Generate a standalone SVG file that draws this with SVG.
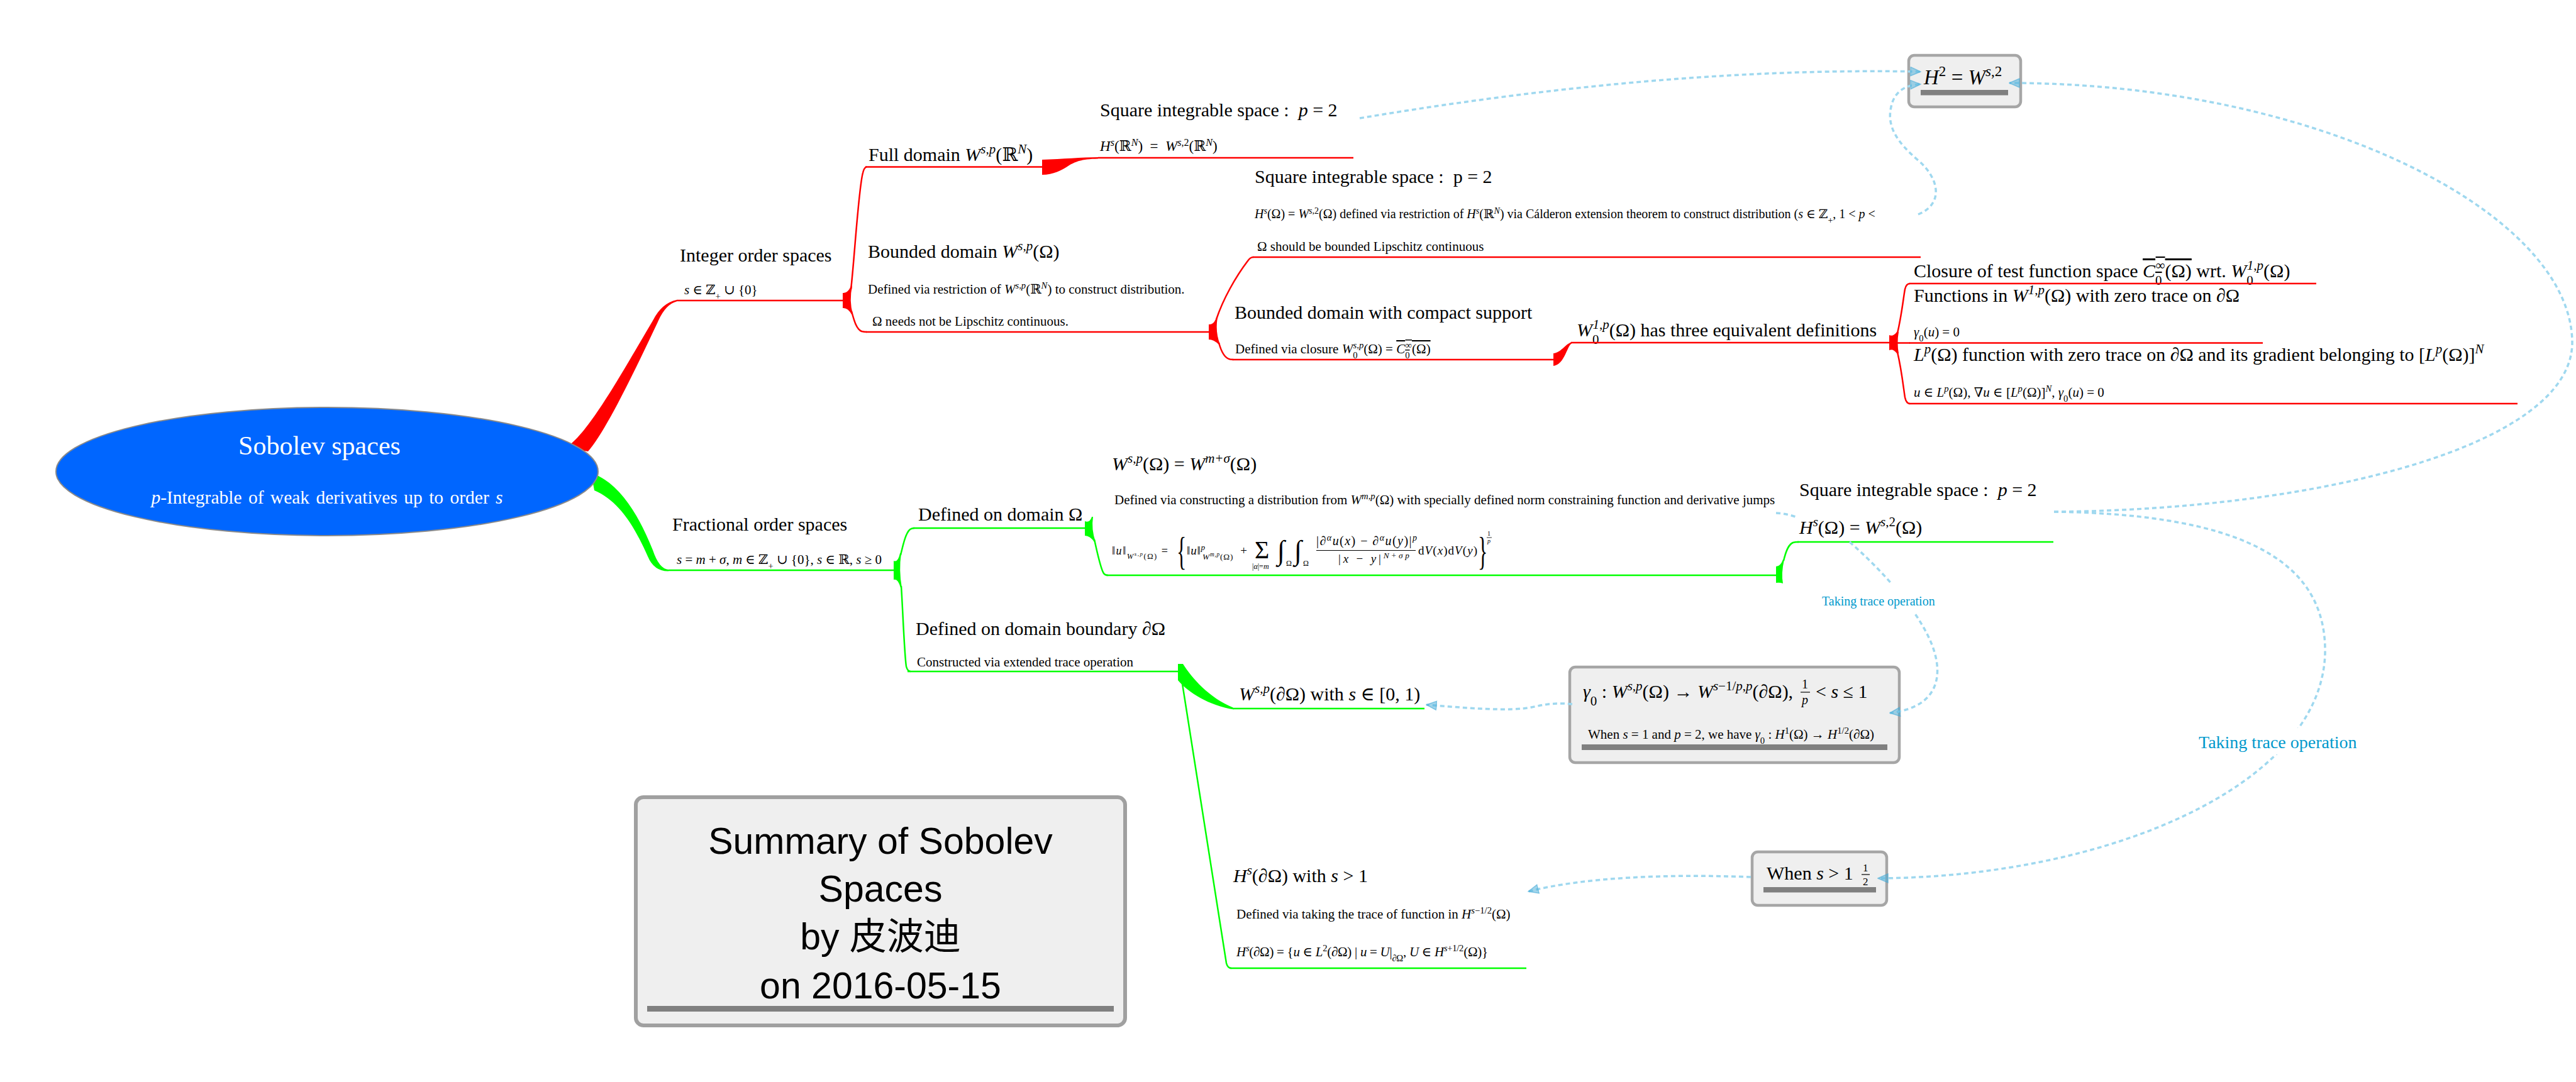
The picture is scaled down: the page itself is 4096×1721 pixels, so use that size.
<svg xmlns="http://www.w3.org/2000/svg" width="4096" height="1721" viewBox="0 0 4096 1721">
<defs>
<style>
.t{font-family:"Liberation Serif","DejaVu Serif",serif;fill:#000}
.ti{font-size:30px}
.nt{font-size:21px}
.i{font-style:italic}
.sup{font-size:70%;baseline-shift:super}
.sb{font-size:70%;baseline-shift:sub}
.rl{fill:none;stroke:#ff0000;stroke-width:2.5}
.gl{fill:none;stroke:#00ff00;stroke-width:2.5}
.rf{fill:#ff0000}
.gf{fill:#00ff00}
.rel{fill:none;stroke:#9fd8ef;stroke-width:3.5;stroke-dasharray:7 5}
.box{fill:#efefef;stroke:#a6a6a6;stroke-width:4.5}
.bar{fill:#808080}
.lbl{font-family:"Liberation Serif","DejaVu Serif",serif;fill:#0099cc}
.sum{font-family:"Liberation Sans","Noto Sans CJK SC",sans-serif;font-size:59px;fill:#000;text-anchor:middle}
.wt{fill:#fff}
.fb{stroke:#000;stroke-width:1.2}
</style>
<marker id="ah" viewBox="0 0 18 16" refX="17" refY="8" markerWidth="18" markerHeight="16" markerUnits="userSpaceOnUse" orient="auto">
<path d="M1 1 L17 8 L1 15 Z" fill="#46acd8" fill-opacity="0.5" stroke="#46acd8" stroke-opacity="0.6" stroke-width="1.5"/>
</marker>
<clipPath id="cpj"><rect x="1700" y="770" width="1126" height="50"/></clipPath>
</defs>

<g id="branches">
<path class="rf" d="M900 712 C935 690 985 600 1038 510 Q1052 482 1076 477 L1076 479.5 Q1058 484 1046 512 C1000 610 960 690 935 718 Z"/>
<path class="gf" d="M940 752 C985 768 1015 818 1038 875 Q1048 905 1063 906 L1063 908.5 Q1040 909 1030 885 C1005 828 980 795 945 780 Z"/>
<path class="rf" d="M1340 466 Q1348 467 1353 455 L1355 455 Q1350 478 1356 500 L1354 500 Q1348 489 1340 490 Z"/>
<path class="rl" d="M1353 460 C1358 420 1365 300 1372 275 Q1374 266 1378 265.5"/>
<path class="rl" d="M1354 495 C1358 510 1362 524 1370 527 Q1374 528 1378 528"/>
<path class="rf" d="M1657 254 C1690 253 1720 250 1746 250 L1746 252.5 C1722 253 1712 256 1700 263 C1688 271 1675 278 1657 278 Z"/>
<path class="rf" d="M1922 516 Q1930 517 1934 505 L1936 505 Q1932 528 1940 548 L1938 548 Q1930 540 1922 540 Z"/>
<path class="rl" d="M1934 508 C1945 475 1965 440 1984 415 Q1988 409 1993 409"/>
<path class="rl" d="M1938 545 C1942 560 1948 570 1956 571.5 L1961 572"/>
<path class="rf" d="M2470 562 C2482 561 2488 548 2499 544 L2499 546.5 C2492 549 2488 580 2470 582 Z"/>
<path class="rf" d="M3004 533 Q3010 536 3016 528 L3019 528 Q3016 545 3019 562 L3016 562 Q3010 554 3004 557 Z"/>
<path class="rl" d="M3017 530 C3024 500 3027 470 3029 460 Q3031 451 3037 451"/>
<path class="rl" d="M3017 560 C3024 590 3027 620 3029 632 Q3031 642 3037 642"/>
<path class="rl" d="M3004 545.5 H3037"/>
<path class="gf" d="M1421 892 Q1428 895 1431 880 L1433 880 Q1429 907 1434 935 L1432 935 Q1428 920 1421 922 Z"/>
<path class="gl" d="M1432 883 C1436 866 1440 848 1447 842 Q1450 840 1454 840"/>
<path class="gl" d="M1433 932 C1436 980 1438 1040 1441 1060 Q1443 1068 1448 1068"/>
<path class="gf" d="M1725 829 Q1733 832 1736 822 L1738 822 Q1735 842 1742 862 L1740 862 Q1733 852 1725 852 Z"/>
<path class="gl" d="M1740 858 C1745 880 1750 905 1755 912 Q1757 915 1762 915"/>
<path class="gf" d="M2824 901 Q2831 901 2835 890 L2837 890 Q2832 912 2835 928 Q2830 926 2824 927 Z"/>
<path class="gl" d="M2836 892 C2840 875 2844 866 2851 863 Q2854 862 2860 862"/>
<path class="gf" d="M1873 1056 L1881 1056 C1895 1078 1922 1110 1962 1126 L1962 1128.5 C1922 1122 1890 1102 1873 1082 Z"/>
<path class="gl" d="M1878 1075 L1950 1532 Q1952 1540 1958 1540"/>
</g>

<g id="n-root">
<ellipse cx="520" cy="750" rx="431" ry="102" fill="#0066ff" stroke="#8a8a8a" stroke-width="2"/>
<text class="t wt" x="508" y="723" font-size="42" text-anchor="middle">Sobolev spaces</text>
<text class="t wt" x="520" y="801" font-size="29.5" word-spacing="3" text-anchor="middle"><tspan class="i">p</tspan>-Integrable of weak derivatives up to order <tspan class="i">s</tspan></text>
</g>

<g id="n-integer">
<text class="t ti" x="1081" y="416">Integer order spaces</text>
<text class="t nt" x="1088" y="468"><tspan class="i">s</tspan> ∈ ℤ<tspan class="sb">+</tspan> ∪ {0}</text>
<path class="rl" d="M1076 478H1342"/>
</g>

<g id="n-full">
<text class="t ti" x="1381" y="256">Full domain <tspan class="i">W</tspan><tspan class="sup i">s,p</tspan>(ℝ<tspan class="sup i">N</tspan>)</text>
<path class="rl" d="M1376 265.5H1657"/>
</g>

<g id="n-square1">
<text class="t ti" x="1749" y="185">Square integrable space : &#160;<tspan class="i">p</tspan> = 2</text>
<text class="t" font-size="23" x="1749" y="240"><tspan class="i">H</tspan><tspan class="sup i">s</tspan>(ℝ<tspan class="sup i">N</tspan>) &#160;= &#160;<tspan class="i">W</tspan><tspan class="sup"><tspan class="i">s</tspan>,2</tspan>(ℝ<tspan class="sup i">N</tspan>)</text>
<path class="rl" d="M1746 251H2152"/>
</g>

<g id="n-bounded">
<text class="t ti" x="1380" y="410">Bounded domain <tspan class="i">W</tspan><tspan class="sup i">s,p</tspan>(Ω)</text>
<text class="t nt" x="1380" y="467">Defined via restriction of <tspan class="i">W</tspan><tspan class="sup i">s,p</tspan>(ℝ<tspan class="sup i">N</tspan>) to construct distribution.</text>
<text class="t nt" x="1387" y="518">Ω needs not be Lipschitz continuous.</text>
<path class="rl" d="M1377 528H1925"/>
</g>

<g id="n-square2">
<text class="t ti" x="1995" y="291">Square integrable space : &#160;p = 2</text>
<text class="t" font-size="20" x="1995" y="347"><tspan class="i">H</tspan><tspan class="sup i">s</tspan>(Ω) = <tspan class="i">W</tspan><tspan class="sup"><tspan class="i">s</tspan>,2</tspan>(Ω) defined via restriction of <tspan class="i">H</tspan><tspan class="sup i">s</tspan>(ℝ<tspan class="sup i">N</tspan>) via Cálderon extension theorem to construct distribution (<tspan class="i">s</tspan> ∈ ℤ<tspan class="sb">+</tspan>, 1 &lt; <tspan class="i">p</tspan> &lt;</text>
<text class="t nt" x="1999" y="399">Ω should be bounded Lipschitz continuous</text>
<path class="rl" d="M1992 409H3054"/>
</g>

<g id="n-compact">
<text class="t ti" x="1963" y="507">Bounded domain with compact support</text>
<text class="t nt" x="1964" y="562">Defined via closure <tspan class="i">W</tspan><tspan class="sb">0</tspan><tspan class="sup i" dx="-7">s,p</tspan>(Ω) = <tspan text-decoration="overline"><tspan class="i">C</tspan><tspan class="sb">0</tspan><tspan class="sup" dx="-7">∞</tspan>(Ω)</tspan></text>
<path class="rl" d="M1960 572H2474"/>
</g>

<g id="n-w0">
<text class="t ti" x="2507" y="535"><tspan class="i">W</tspan><tspan class="sb">0</tspan><tspan class="sup i" dx="-10">1,p</tspan>(Ω) has three equivalent definitions</text>
<path class="rl" d="M2498 545H3004"/>
</g>

<g id="n-closure">
<text class="t ti" x="3043" y="441">Closure of test function space <tspan text-decoration="overline"><tspan class="i">C</tspan><tspan class="sb">0</tspan><tspan class="sup" dx="-10">∞</tspan>(Ω)</tspan> wrt. <tspan class="i">W</tspan><tspan class="sb">0</tspan><tspan class="sup i" dx="-10">1,p</tspan>(Ω)</text>
<path class="rl" d="M3036 451H3683"/>
</g>

<g id="n-functions">
<text class="t ti" x="3043" y="480">Functions in <tspan class="i">W</tspan><tspan class="sup i">1,p</tspan>(Ω) with zero trace on ∂Ω</text>
<text class="t nt" x="3043" y="535"><tspan class="i">γ</tspan><tspan class="sb">0</tspan>(<tspan class="i">u</tspan>) = 0</text>
<path class="rl" d="M3036 545.5H3598"/>
</g>

<g id="n-lp">
<text class="t ti" x="3043" y="574"><tspan class="i">L</tspan><tspan class="sup i">p</tspan>(Ω) function with zero trace on ∂Ω and its gradient belonging to [<tspan class="i">L</tspan><tspan class="sup i">p</tspan>(Ω)]<tspan class="sup i">N</tspan></text>
<text class="t nt" x="3043" y="631"><tspan class="i">u</tspan> ∈ <tspan class="i">L</tspan><tspan class="sup i">p</tspan>(Ω), ∇<tspan class="i">u</tspan> ∈ [<tspan class="i">L</tspan><tspan class="sup i">p</tspan>(Ω)]<tspan class="sup i">N</tspan>, <tspan class="i">γ</tspan><tspan class="sb">0</tspan>(<tspan class="i">u</tspan>) = 0</text>
<path class="rl" d="M3036 642H4003"/>
</g>

<g id="n-fractional">
<text class="t ti" x="1069" y="844">Fractional order spaces</text>
<text class="t nt" x="1076" y="897"><tspan class="i">s</tspan> = <tspan class="i">m</tspan> + <tspan class="i">σ</tspan>, <tspan class="i">m</tspan> ∈ ℤ<tspan class="sb">+</tspan> ∪ {0}, <tspan class="i">s</tspan> ∈ ℝ, <tspan class="i">s</tspan> ≥ 0</text>
<path class="gl" d="M1063 907H1425"/>
</g>

<g id="n-domain">
<text class="t ti" x="1460" y="828">Defined on domain Ω</text>
<path class="gl" d="M1452 840H1729"/>
</g>

<g id="n-wmsigma">
<text class="t ti" x="1768" y="748"><tspan class="i">W</tspan><tspan class="sup i">s,p</tspan>(Ω) = <tspan class="i">W</tspan><tspan class="sup i">m+σ</tspan>(Ω)</text>
<text class="t nt" x="1772" y="802" clip-path="url(#cpj)">Defined via constructing a distribution from <tspan class="i">W</tspan><tspan class="sup i">m,p</tspan>(Ω) with specially defined norm constraining function and derivative jumps</text>
<g class="t">
<text font-size="18" x="1768" y="882" textLength="89" lengthAdjust="spacing">‖<tspan class="i">u</tspan>‖<tspan class="sb"><tspan class="i">W</tspan><tspan class="sup i">s,p</tspan>(Ω)</tspan> =</text>
<text font-size="64" transform="translate(1871 898) scale(0.5 1)">{</text>
<text font-size="19" x="1887" y="882" textLength="96" lengthAdjust="spacing">‖<tspan class="i">u</tspan>‖<tspan class="sup i">p</tspan><tspan class="sb" dx="-5"><tspan class="i">W</tspan><tspan class="sup i">m,p</tspan>(Ω)</tspan> &#160;+</text>
<text font-size="40" x="1995" y="888">Σ</text>
<text font-size="12" x="1991" y="905">|<tspan class="i">α</tspan>|=<tspan class="i">m</tspan></text>
<text font-size="44" x="2031" y="890">∫</text>
<text font-size="12" x="2045" y="900">Ω</text>
<text font-size="44" x="2058" y="890">∫</text>
<text font-size="12" x="2072" y="900">Ω</text>
<text font-size="20" x="2093" y="867" textLength="160" lengthAdjust="spacing">|∂<tspan class="sup i">α</tspan><tspan class="i">u</tspan>(<tspan class="i">x</tspan>) − ∂<tspan class="sup i">α</tspan><tspan class="i">u</tspan>(<tspan class="i">y</tspan>)|<tspan class="sup i">p</tspan></text>
<line class="fb" x1="2093" y1="875.5" x2="2251" y2="875.5"/>
<text font-size="19" x="2128" y="895" textLength="113" lengthAdjust="spacing">|<tspan class="i">x</tspan> − <tspan class="i">y</tspan>|<tspan class="sup"><tspan class="i">N</tspan>+<tspan class="i">σp</tspan></tspan></text>
<text font-size="19" x="2255" y="882" textLength="94" lengthAdjust="spacing">d<tspan class="i">V</tspan>(<tspan class="i">x</tspan>)d<tspan class="i">V</tspan>(<tspan class="i">y</tspan>)</text>
<text font-size="64" transform="translate(2350 898) scale(0.5 1)">}</text>
<text font-size="10" x="2365" y="852">1</text>
<line x1="2364" y1="855" x2="2372" y2="855" stroke="#000" stroke-width="0.8"/>
<text font-size="10" class="i" x="2365" y="864">p</text>
</g>
<path class="gl" d="M1759 915H2824"/>
</g>

<g id="n-square3">
<text class="t ti" x="2861" y="789">Square integrable space : &#160;<tspan class="i">p</tspan> = 2</text>
<text class="t ti" x="2861" y="849"><tspan class="i">H</tspan><tspan class="sup i">s</tspan>(Ω) = <tspan class="i">W</tspan><tspan class="sup"><tspan class="i">s</tspan>,2</tspan>(Ω)</text>
<path class="gl" d="M2858 862H3265"/>
</g>

<g id="n-boundary">
<text class="t ti" x="1456" y="1010">Defined on domain boundary ∂Ω</text>
<text class="t nt" x="1458" y="1060">Constructed via extended trace operation</text>
<path class="gl" d="M1443 1068H1876"/>
</g>

<g id="n-wboundary">
<text class="t ti" x="1970" y="1114"><tspan class="i">W</tspan><tspan class="sup i">s,p</tspan>(∂Ω) with <tspan class="i">s</tspan> ∈ [0, 1)</text>
<path class="gl" d="M1962 1127H2265"/>
</g>

<g id="n-hboundary">
<text class="t ti" x="1961" y="1403"><tspan class="i">H</tspan><tspan class="sup i">s</tspan>(∂Ω) with <tspan class="i">s</tspan> &gt; 1</text>
<text class="t nt" x="1966" y="1461">Defined via taking the trace of function in <tspan class="i">H</tspan><tspan class="sup"><tspan class="i">s</tspan>−1/2</tspan>(Ω)</text>
<text class="t nt" x="1966" y="1521" textLength="400" lengthAdjust="spacing"><tspan class="i">H</tspan><tspan class="sup i">s</tspan>(∂Ω) = {<tspan class="i">u</tspan> ∈ <tspan class="i">L</tspan><tspan class="sup">2</tspan>(∂Ω) | <tspan class="i">u</tspan> = <tspan class="i">U</tspan>|<tspan class="sb">∂Ω</tspan>, <tspan class="i">U</tspan> ∈ <tspan class="i">H</tspan><tspan class="sup"><tspan class="i">s</tspan>+1/2</tspan>(Ω)}</text>
<path class="gl" d="M1956 1540H2427"/>
</g>

<g id="n-gamma">
<rect class="box" x="2496" y="1061" width="524" height="152" rx="9"/>
<text class="t ti" x="2517" y="1110"><tspan class="i">γ</tspan><tspan class="sb">0</tspan> : <tspan class="i">W</tspan><tspan class="sup i">s,p</tspan>(Ω) → <tspan class="i">W</tspan><tspan class="sup"><tspan class="i">s</tspan>−1/<tspan class="i">p</tspan>,<tspan class="i">p</tspan></tspan>(∂Ω),</text>
<text class="t" font-size="20" x="2865" y="1095">1</text>
<line class="fb" x1="2863" y1="1101" x2="2878" y2="1101"/>
<text class="t i" font-size="20" x="2865" y="1120">p</text>
<text class="t ti" x="2887" y="1110">&lt; <tspan class="i">s</tspan> ≤ 1</text>
<text class="t nt" x="2525" y="1175" textLength="455" lengthAdjust="spacing">When <tspan class="i">s</tspan> = 1 and <tspan class="i">p</tspan> = 2, we have <tspan class="i">γ</tspan><tspan class="sb">0</tspan> : <tspan class="i">H</tspan><tspan class="sup">1</tspan>(Ω) → <tspan class="i">H</tspan><tspan class="sup">1/2</tspan>(∂Ω)</text>
<rect class="bar" x="2515" y="1184" width="486" height="9"/>
</g>

<g id="n-when">
<rect class="box" x="2786" y="1355" width="214" height="85" rx="9"/>
<text class="t ti" x="2809" y="1399">When <tspan class="i">s</tspan> &gt; 1</text>
<text class="t" font-size="17" x="2962" y="1386">1</text>
<line class="fb" x1="2960" y1="1391" x2="2973" y2="1391"/>
<text class="t" font-size="17" x="2962" y="1408">2</text>
<rect class="bar" x="2804" y="1411" width="179" height="8.5"/>
</g>

<g id="n-h2">
<rect class="box" x="3035" y="88" width="178" height="82" rx="9"/>
<text class="t" font-size="33" x="3059" y="134"><tspan class="i">H</tspan><tspan class="sup">2</tspan> = <tspan class="i">W</tspan><tspan class="sup"><tspan class="i">s</tspan>,2</tspan></text>
<rect class="bar" x="3054" y="143" width="139" height="8.5"/>
</g>

<g id="n-summary">
<rect x="1011" y="1268" width="778" height="363" rx="12" fill="#efefef" stroke="#a0a0a0" stroke-width="6"/>
<text class="sum" x="1400" y="1358">Summary of Sobolev</text>
<text class="sum" x="1400" y="1434">Spaces</text>
<text class="sum" x="1400" y="1510">by 皮波迪</text>
<text class="sum" x="1400" y="1588">on 2016-05-15</text>
<rect class="bar" x="1029" y="1600" width="742" height="9"/>
</g>

<g id="relations">
<path class="rel" marker-end="url(#ah)" d="M2162 188 C2450 140 2750 108 3054 114"/>
<path class="rel" marker-end="url(#ah)" d="M3050 341 C3090 325 3085 285 3050 255 C3015 225 3000 200 3007 170 C3012 145 3030 135 3054 134"/>
<path class="rel" marker-end="url(#ah)" d="M3266 814 C3686 811 4091 709 4090 544 C4088 340 3686 132 3195 132"/>
<path class="rel" marker-end="url(#ah)" d="M3266 814 C3580 818 3700 900 3697 1040 C3690 1250 3350 1395 2986 1397"/>
<rect x="3490" y="1158" width="268" height="42" fill="#fff"/>
<text class="lbl" x="3496" y="1190" font-size="28">Taking trace operation</text>
<path class="rel" marker-end="url(#ah)" d="M2784 1395 C2650 1390 2520 1395 2430 1418"/>
<path class="rel" d="M2824 816 Q2842 817 2858 823"/>
<path class="rel" marker-end="url(#ah)" d="M2941 862 C2990 905 3040 960 3065 1010 C3095 1070 3085 1125 3005 1134"/>
<rect x="2890" y="928" width="200" height="46" fill="#fff"/>
<text class="lbl" x="2897" y="963" font-size="20">Taking trace operation</text>
<path class="rel" marker-end="url(#ah)" d="M2500 1120 C2470 1117 2455 1121 2435 1125 C2400 1132 2330 1126 2268 1121"/>
</g>
</svg>
